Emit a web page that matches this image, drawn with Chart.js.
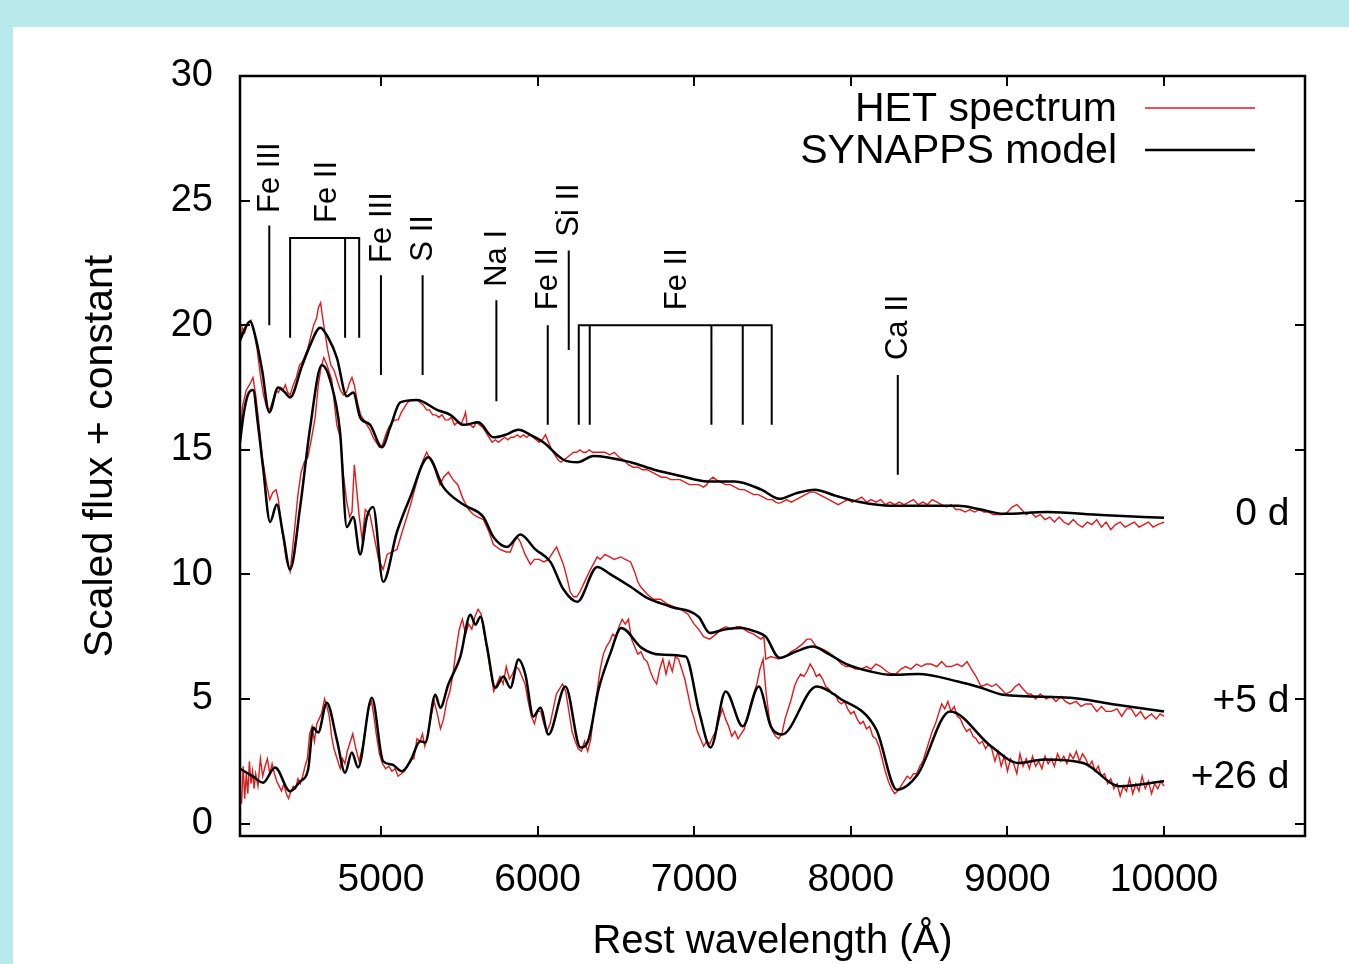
<!DOCTYPE html>
<html><head><meta charset="utf-8">
<script src="https://cdn.jsdelivr.net/npm/chart.js@4.4.1/dist/chart.umd.min.js"></script>
<style>html,body{margin:0;padding:0;background:#b8eaec;}canvas{display:block}</style>
</head><body>
<canvas id="c" width="1349" height="964"></canvas>
<script>
// ---------- tick labels ----------
const xTickValues = [5000, 6000, 7000, 8000, 9000, 10000];
const yTickValues = [0, 5, 10, 15, 20, 25, 30];

// ---------- 0 d ----------
const het0d = [[4100,19.2],[4115,19.9],[4130,19.7],[4150,20.1],[4170,20.2],[4190,19.7],[4210,19.0],[4230,18.0],[4250,17.2],[4270,16.7],[4290,16.6],[4310,17.0],[4330,17.4],[4345,17.3],[4360,17.5],[4375,17.4],[4390,17.6],[4405,17.3],[4420,17.2],[4440,17.6],[4460,17.9],[4480,18.4],[4495,18.5],[4510,18.7],[4530,19.0],[4550,19.5],[4570,20.0],[4590,20.3],[4600,20.7],[4615,20.9],[4625,20.4],[4640,19.8],[4660,19.0],[4680,18.4],[4700,18.2],[4720,17.8],[4740,17.4],[4760,17.2],[4780,17.3],[4800,17.7],[4815,17.9],[4830,17.6],[4850,16.9],[4870,16.4],[4890,16.2],[4910,16.0],[4930,15.8],[4950,15.5],[4970,15.3],[4990,15.1],[5010,15.2],[5030,15.6],[5050,15.9],[5070,16.1],[5090,16.2],[5110,16.2],[5130,16.5],[5150,16.7],[5170,16.9],[5190,17.0],[5210,17.0],[5230,17.0],[5250,16.9],[5270,16.8],[5290,16.6],[5310,16.6],[5330,16.4],[5350,16.4],[5370,16.3],[5390,16.4],[5410,16.2],[5430,16.2],[5450,16.3],[5470,16.0],[5490,16.1],[5510,16.0],[5530,16.3],[5540,16.5],[5550,16.0],[5570,16.0],[5590,15.9],[5610,16.1],[5630,16.0],[5650,15.9],[5670,15.7],[5690,15.5],[5710,15.3],[5730,15.4],[5750,15.3],[5770,15.4],[5790,15.5],[5810,15.4],[5830,15.5],[5850,15.5],[5870,15.6],[5890,15.5],[5910,15.6],[5930,15.5],[5950,15.6],[5970,15.5],[5990,15.4],[6010,15.3],[6030,15.4],[6050,15.6],[6070,15.3],[6090,15.0],[6110,14.8],[6130,14.6],[6150,14.5],[6170,14.6],[6190,14.7],[6210,14.8],[6230,14.9],[6250,14.9],[6270,15.0],[6290,14.9],[6310,14.9],[6330,15.0],[6350,14.9],[6380,14.9],[6400,14.9],[6430,14.9],[6460,14.8],[6490,14.9],[6520,14.7],[6550,14.6],[6580,14.4],[6610,14.3],[6640,14.3],[6670,14.2],[6700,14.2],[6730,14.1],[6760,14.0],[6790,13.9],[6820,13.9],[6850,13.8],[6880,13.8],[6910,13.8],[6940,13.7],[6970,13.6],[7000,13.6],[7030,13.6],[7060,13.5],[7080,13.6],[7100,13.8],[7120,13.9],[7140,13.8],[7170,13.7],[7200,13.6],[7230,13.6],[7260,13.5],[7290,13.4],[7320,13.4],[7350,13.3],[7380,13.2],[7410,13.2],[7440,13.1],[7470,13.0],[7500,13.0],[7520,12.9],[7540,12.85],[7560,12.9],[7590,13.0],[7620,12.9],[7650,13.0],[7680,13.1],[7710,13.2],[7740,13.3],[7770,13.3],[7800,13.2],[7830,13.1],[7860,13.0],[7890,12.9],[7920,12.8],[7950,12.9],[7980,13.0],[8010,12.9],[8040,13.0],[8070,13.1],[8100,12.9],[8130,13.0],[8160,12.9],[8190,13.0],[8220,12.8],[8250,12.9],[8280,12.8],[8310,12.9],[8340,12.8],[8370,12.9],[8400,13.0],[8430,12.8],[8460,12.9],[8490,12.8],[8520,13.0],[8550,12.9],[8580,12.8],[8610,12.7],[8640,12.8],[8670,12.6],[8700,12.6],[8730,12.5],[8760,12.6],[8790,12.5],[8820,12.6],[8850,12.5],[8880,12.5],[8910,12.4],[8940,12.4],[8970,12.4],[9000,12.5],[9030,12.7],[9060,12.8],[9090,12.6],[9120,12.4],[9150,12.5],[9180,12.3],[9210,12.4],[9240,12.2],[9270,12.3],[9300,12.1],[9330,12.3],[9360,12.1],[9390,12.0],[9420,12.2],[9450,12.0],[9480,11.9],[9510,12.1],[9540,12.0],[9570,12.2],[9600,11.9],[9630,12.1],[9660,11.8],[9690,12.0],[9720,12.1],[9750,11.9],[9780,12.0],[9810,12.1],[9840,11.9],[9870,12.0],[9900,12.1],[9930,11.9],[9960,12.0],[10000,12.1]];
const syn0d = [[4100,19.4],[4164,20.15],[4200,19.5],[4241,18.2],[4287,16.5],[4343,17.5],[4388,17.3],[4420,17.1],[4495,18.35],[4548,19.2],[4612,19.9],[4663,19.5],[4718,18.7],[4782,17.15],[4823,17.3],[4867,16.3],[4931,16.0],[5006,15.1],[5059,15.9],[5123,16.9],[5230,17.0],[5358,16.6],[5443,16.4],[5526,16.0],[5622,16.1],[5718,15.5],[5794,15.6],[5878,15.8],[5954,15.6],[6037,15.3],[6165,14.6],[6255,14.5],[6357,14.75],[6594,14.5],[6745,14.2],[6913,13.95],[7086,13.73],[7259,13.73],[7429,13.4],[7544,13.03],[7649,13.25],[7770,13.4],[7905,13.15],[8058,12.9],[8256,12.75],[8684,12.75],[8832,12.6],[8972,12.43],[9254,12.5],[9599,12.38],[10000,12.27]];

// ---------- +5 d ----------
const het5d = [[4100,15.2],[4115,16.7],[4140,17.4],[4160,17.6],[4183,17.9],[4200,17.2],[4220,16.1],[4245,14.6],[4270,13.6],[4290,13.0],[4310,13.3],[4330,13.4],[4345,13.0],[4370,11.7],[4395,10.6],[4420,10.1],[4445,11.6],[4470,13.2],[4490,14.1],[4510,14.5],[4533,14.7],[4555,15.4],[4580,16.3],[4600,17.6],[4617,18.3],[4635,18.7],[4655,18.4],[4686,17.8],[4700,17.0],[4718,16.0],[4740,15.5],[4760,14.0],[4782,12.9],[4800,12.3],[4815,12.5],[4830,14.4],[4845,13.4],[4860,12.4],[4880,11.4],[4900,12.6],[4930,12.4],[4960,11.4],[4985,10.6],[5014,10.2],[5040,10.8],[5070,10.9],[5102,11.0],[5140,11.8],[5180,12.6],[5215,13.4],[5250,14.2],[5270,14.6],[5292,14.9],[5315,14.6],[5340,14.3],[5360,13.9],[5377,13.6],[5400,13.9],[5430,14.1],[5460,13.8],[5490,13.6],[5526,13.0],[5560,12.6],[5590,12.4],[5620,12.3],[5654,12.2],[5690,11.7],[5718,11.2],[5760,11.0],[5800,10.9],[5826,10.9],[5850,11.3],[5870,11.5],[5890,11.3],[5920,10.8],[5954,10.4],[5980,10.6],[6010,10.6],[6040,10.5],[6070,10.6],[6100,10.9],[6122,11.1],[6140,10.8],[6165,10.4],[6190,9.8],[6208,9.3],[6230,9.1],[6250,9.1],[6270,9.3],[6300,9.7],[6330,10.1],[6355,10.4],[6381,10.7],[6400,10.6],[6430,10.8],[6460,10.7],[6490,10.6],[6530,10.7],[6560,10.6],[6594,10.5],[6620,10.1],[6640,9.7],[6658,9.5],[6700,9.2],[6740,9.0],[6785,9.0],[6830,8.8],[6870,8.7],[6913,8.6],[6960,8.4],[7000,8.0],[7028,7.8],[7060,7.5],[7099,7.4],[7140,7.6],[7170,7.8],[7201,7.9],[7240,7.8],[7270,7.9],[7297,7.9],[7340,7.7],[7380,7.6],[7425,7.4],[7445,7.5],[7457,6.6],[7490,6.7],[7540,6.6],[7580,6.7],[7620,6.9],[7649,7.0],[7690,7.2],[7720,7.4],[7745,7.4],[7780,7.1],[7820,7.0],[7850,6.9],[7872,6.8],[7910,6.6],[7940,6.4],[7968,6.3],[8000,6.3],[8030,6.2],[8064,6.2],[8100,6.3],[8130,6.2],[8160,6.4],[8192,6.3],[8230,6.1],[8260,6.0],[8288,6.0],[8320,6.2],[8350,6.3],[8384,6.2],[8420,6.4],[8450,6.3],[8480,6.4],[8512,6.4],[8550,6.3],[8580,6.5],[8610,6.3],[8640,6.3],[8680,6.4],[8710,6.3],[8742,6.5],[8770,6.2],[8800,5.9],[8832,5.5],[8870,5.6],[8900,5.5],[8928,5.6],[8960,5.4],[8990,5.2],[9023,5.3],[9050,5.5],[9074,5.6],[9100,5.4],[9130,5.2],[9151,5.2],[9180,5.0],[9210,5.2],[9247,5.0],[9280,5.1],[9310,4.9],[9343,5.1],[9370,4.9],[9400,4.8],[9439,4.9],[9470,4.7],[9500,4.8],[9535,4.8],[9570,4.5],[9600,4.7],[9630,4.5],[9663,4.5],[9700,4.6],[9730,4.3],[9760,4.6],[9791,4.6],[9820,4.3],[9850,4.5],[9880,4.2],[9919,4.4],[9950,4.2],[9975,4.4],[10000,4.3]];
const syn5d = [[4100,15.3],[4125,16.5],[4150,17.2],[4183,17.4],[4215,16.0],[4247,14.3],[4292,12.1],[4335,12.8],[4375,11.6],[4420,10.2],[4484,12.7],[4548,15.9],[4622,18.4],[4675,17.8],[4739,15.7],[4782,11.9],[4823,12.3],[4867,10.8],[4910,12.3],[4950,12.7],[5014,9.7],[5102,11.7],[5187,13.1],[5302,14.7],[5398,13.5],[5526,12.8],[5654,12.3],[5718,11.5],[5805,11.1],[5890,11.6],[5986,11.0],[6082,10.5],[6165,9.4],[6253,8.9],[6381,10.3],[6466,10.0],[6594,9.5],[6687,9.1],[6850,8.7],[7028,8.3],[7099,7.65],[7201,7.8],[7301,7.85],[7393,7.7],[7457,7.5],[7544,6.65],[7649,6.9],[7757,7.1],[7860,6.8],[7972,6.4],[8128,6.1],[8256,5.97],[8429,6.0],[8684,5.7],[8832,5.45],[8972,5.17],[9401,5.05],[9663,4.8],[10000,4.5]];

// ---------- +26 d ----------
const het26d = [[4100,1.5],[4110,0.8],[4120,2.3],[4130,1.0],[4140,2.0],[4150,1.2],[4160,2.5],[4170,1.6],[4180,2.1],[4190,1.4],[4200,2.0],[4215,1.5],[4230,2.6],[4245,1.9],[4260,2.3],[4275,2.6],[4290,2.0],[4305,2.4],[4320,2.0],[4335,1.7],[4350,1.5],[4365,1.3],[4380,1.6],[4395,1.2],[4410,1.0],[4425,1.3],[4440,1.5],[4455,1.4],[4470,1.8],[4485,1.6],[4500,1.9],[4515,2.3],[4530,2.6],[4545,3.6],[4560,3.9],[4575,3.3],[4590,4.0],[4605,4.2],[4620,4.4],[4640,5.0],[4655,4.7],[4670,4.3],[4685,3.5],[4700,3.0],[4720,2.6],[4740,2.2],[4755,2.6],[4770,2.4],[4785,2.9],[4800,3.2],[4820,3.6],[4840,3.0],[4860,2.5],[4880,3.0],[4900,3.8],[4920,4.6],[4940,4.9],[4955,4.3],[4970,3.6],[4990,2.8],[5010,2.4],[5030,2.2],[5050,2.3],[5070,2.1],[5090,2.2],[5110,1.9],[5130,2.0],[5150,2.1],[5170,2.3],[5190,2.6],[5210,2.6],[5230,3.4],[5250,3.3],[5265,3.6],[5280,3.1],[5300,3.6],[5320,4.3],[5340,4.9],[5360,4.4],[5380,3.8],[5400,4.2],[5420,4.9],[5440,5.3],[5460,6.0],[5480,7.0],[5500,7.8],[5520,8.2],[5540,7.6],[5560,8.0],[5580,7.8],[5600,8.3],[5620,8.6],[5640,8.4],[5660,7.6],[5680,6.9],[5700,6.1],[5720,5.3],[5740,5.6],[5760,5.9],[5780,5.6],[5800,6.3],[5820,5.8],[5840,6.0],[5860,6.3],[5880,6.2],[5900,5.9],[5920,5.6],[5940,4.9],[5960,4.3],[5980,4.0],[6000,4.5],[6020,4.5],[6040,4.0],[6060,3.7],[6080,4.0],[6100,4.6],[6120,5.2],[6140,5.4],[6160,5.6],[6180,5.3],[6200,4.5],[6220,3.7],[6240,3.3],[6260,3.0],[6280,2.9],[6300,3.3],[6320,2.9],[6340,3.4],[6360,4.5],[6380,5.3],[6400,6.2],[6420,6.8],[6440,7.1],[6460,7.3],[6480,7.6],[6500,7.5],[6520,7.9],[6540,8.2],[6560,8.0],[6580,8.2],[6600,7.4],[6620,7.1],[6640,6.8],[6660,6.9],[6680,6.6],[6700,6.5],[6720,6.1],[6740,5.8],[6760,5.6],[6780,6.2],[6800,6.6],[6820,6.0],[6840,6.5],[6860,6.1],[6880,6.7],[6900,6.6],[6920,6.2],[6940,5.8],[6960,5.2],[6980,4.6],[7000,4.2],[7020,3.7],[7040,3.4],[7060,3.1],[7080,3.3],[7100,3.2],[7120,3.5],[7140,3.7],[7160,4.2],[7180,4.6],[7200,4.2],[7220,3.9],[7240,3.5],[7260,3.7],[7280,3.4],[7300,3.6],[7320,3.8],[7340,4.3],[7360,4.8],[7380,5.2],[7400,5.6],[7420,6.2],[7440,6.6],[7460,5.2],[7480,4.2],[7500,3.7],[7520,3.5],[7540,3.4],[7560,3.6],[7580,4.2],[7600,4.6],[7620,5.0],[7640,5.5],[7660,5.8],[7680,6.0],[7700,5.9],[7720,6.1],[7740,6.4],[7760,6.2],[7780,5.9],[7800,6.0],[7820,5.8],[7840,5.5],[7860,5.4],[7880,5.2],[7900,5.2],[7920,4.9],[7940,4.8],[7960,4.9],[7980,4.6],[8000,4.4],[8020,4.5],[8040,4.2],[8060,4.0],[8080,4.1],[8100,3.8],[8120,3.9],[8140,3.5],[8160,3.4],[8180,3.1],[8200,2.6],[8220,2.1],[8240,1.7],[8260,1.4],[8280,1.2],[8300,1.3],[8320,1.5],[8340,1.7],[8360,1.9],[8380,1.8],[8400,2.0],[8420,2.0],[8440,2.3],[8460,2.5],[8480,2.9],[8500,3.3],[8520,3.7],[8540,4.0],[8560,4.4],[8580,4.8],[8600,4.6],[8620,4.9],[8640,4.5],[8660,4.7],[8680,4.3],[8700,4.2],[8720,3.9],[8740,3.7],[8760,3.8],[8780,3.5],[8800,3.4],[8820,3.2],[8840,3.3],[8860,3.0],[8880,3.2],[8900,3.0],[8920,2.5],[8940,2.9],[8960,2.3],[8980,2.7],[9000,2.1],[9020,2.6],[9040,2.4],[9060,2.0],[9080,2.8],[9100,2.3],[9120,2.6],[9140,2.2],[9160,2.7],[9180,2.3],[9200,2.5],[9220,2.2],[9240,2.7],[9260,2.4],[9280,2.6],[9300,2.3],[9320,2.8],[9340,2.5],[9360,2.7],[9380,2.4],[9400,2.8],[9420,2.6],[9440,2.9],[9460,2.5],[9480,2.8],[9500,2.6],[9520,2.3],[9540,2.5],[9560,2.1],[9580,2.3],[9600,1.9],[9620,2.0],[9640,1.6],[9660,1.8],[9680,1.4],[9700,1.6],[9720,1.1],[9740,1.5],[9760,1.3],[9780,1.8],[9800,1.2],[9820,1.6],[9840,1.3],[9860,1.9],[9880,1.4],[9900,1.7],[9920,1.2],[9940,1.6],[9960,1.4],[9980,1.7],[10000,1.5]];
const syn26d = [[4100,2.2],[4180,1.9],[4247,1.64],[4324,2.25],[4420,1.29],[4484,1.69],[4535,2.17],[4567,3.85],[4599,3.65],[4654,4.85],[4718,3.37],[4771,2.04],[4814,2.85],[4854,2.25],[4942,5.05],[5014,2.5],[5070,2.37],[5134,2.1],[5187,2.5],[5251,3.3],[5283,3.25],[5347,5.17],[5379,4.65],[5430,5.58],[5507,6.7],[5571,8.38],[5603,7.98],[5635,8.3],[5677,7.1],[5730,5.45],[5782,5.9],[5826,5.45],[5878,6.58],[5922,5.98],[5973,4.3],[6018,4.65],[6069,3.57],[6178,5.5],[6274,3.05],[6325,3.37],[6389,5.37],[6466,6.85],[6534,7.85],[6664,7.05],[6784,6.78],[6945,6.7],[7033,4.45],[7105,3.05],[7201,5.3],[7310,3.9],[7412,5.5],[7489,3.9],[7559,3.57],[7782,5.5],[7928,5.03],[8163,3.77],[8294,1.36],[8427,1.97],[8633,4.5],[8896,3.1],[9073,2.43],[9234,2.57],[9484,2.43],[9719,1.5],[10000,1.7]];

// ---------- line identifications ----------
const ionLabels   = ['Fe III', 'Fe II', 'Fe III', 'S II', 'Na I', 'Fe II', 'Si II', 'Fe II', 'Ca II'];
const ionLabelX   = [4287, 4654, 5000, 5266, 5737, 6065, 6199, 6888, 8300];
const ionLabelY   = [24.5, 24.1, 22.5, 22.55, 21.54, 20.6, 23.55, 20.6, 18.6];
// vertical markers: [wavelength, bottom, top]
const ionMarkers = [[4287,20.0,24.0],[4420,19.5,23.5],[4771,19.5,23.5],[4861,19.5,23.5],[5000,18.0,22.0],[5266,18.0,22.0],[5737,16.95,21.0],[6065,16.0,20.0],[6199,19.0,23.0],[6263,16.0,20.0],[6333,16.0,20.0],[7110,16.0,20.0],[7310,16.0,20.0],[7495,16.0,20.0],[8300,14.0,18.0]];
// bracket bars: [from, to, level]
const ionBrackets = [[4420,4861,23.5],[6263,7495,20.0]];

// ---------- epoch labels ----------
const epochLabels = ['0 d', '+5 d', '+26 d'];
const epochX = [10801, 10801, 10801];
const epochY = [12.43, 4.89, 1.85];

const FONT = "'Liberation Sans', Arial, Helvetica, sans-serif";
const RED = '#e31a1c';
const toXY = a => a.map(p => ({x: p[0], y: p[1]}));

const bgPlugin = {
  id: 'bg',
  beforeDraw(chart) {
    const c = chart.ctx;
    c.save();
    c.fillStyle = '#b8eaec';
    c.fillRect(0, 0, chart.width, chart.height);
    c.fillStyle = '#ffffff';
    c.fillRect(13, 27, chart.width - 13, chart.height - 27);
    c.restore();
  }
};

const framePlugin = {
  id: 'frame',
  afterDraw(chart) {
    const c = chart.ctx, a = chart.chartArea;
    const xs = chart.scales.x, ys = chart.scales.y;
    c.save();
    c.strokeStyle = '#000';
    // ticks (inward, mirrored)
    c.lineWidth = 2;
    c.beginPath();
    xTickValues.forEach(v => {
      const px = Math.round(xs.getPixelForValue(v));
      c.moveTo(px, a.bottom); c.lineTo(px, a.bottom - 10);
      c.moveTo(px, a.top); c.lineTo(px, a.top + 10);
    });
    yTickValues.forEach(v => {
      const py = Math.round(ys.getPixelForValue(v));
      c.moveTo(a.left, py); c.lineTo(a.left + 10, py);
      c.moveTo(a.right, py); c.lineTo(a.right - 10, py);
    });
    c.stroke();
    // frame
    c.lineWidth = 2.5;
    c.strokeRect(a.left, a.top, a.right - a.left, a.bottom - a.top);

    // ion markers
    c.lineWidth = 2;
    c.beginPath();
    ionMarkers.forEach(m => {
      const px = xs.getPixelForValue(m[0]);
      c.moveTo(px, ys.getPixelForValue(m[1]));
      c.lineTo(px, ys.getPixelForValue(m[2]));
    });
    ionBrackets.forEach(b => {
      const py = ys.getPixelForValue(b[2]);
      c.moveTo(xs.getPixelForValue(b[0]) - 1, py);
      c.lineTo(xs.getPixelForValue(b[1]) + 1, py);
    });
    c.stroke();

    // ion labels (rotated)
    c.fillStyle = '#000';
    c.font = '31px ' + FONT;
    c.textAlign = 'left';
    c.textBaseline = 'middle';
    ionLabels.forEach((t, i) => {
      c.save();
      c.translate(xs.getPixelForValue(ionLabelX[i]) + 1, ys.getPixelForValue(ionLabelY[i]));
      c.rotate(-Math.PI / 2);
      c.fillText(t, 0, 0);
      c.restore();
    });

    // epoch labels
    c.font = '39px ' + FONT;
    c.textAlign = 'right';
    epochLabels.forEach((t, i) => {
      c.fillText(t, xs.getPixelForValue(epochX[i]), ys.getPixelForValue(epochY[i]));
    });

    // legend
    const items = [chart.data.datasets[1], chart.data.datasets[0]];
    c.font = '41px ' + FONT;
    c.textAlign = 'right';
    const rowsY = [109, 151];
    items.forEach((ds, i) => {
      c.fillStyle = '#000';
      c.fillText(ds.label, 1117, rowsY[i] + 1);
      c.strokeStyle = ds.borderColor;
      c.lineWidth = ds.borderWidth;
      c.beginPath();
      c.moveTo(1145, rowsY[i] - 1); c.lineTo(1255, rowsY[i] - 1);
      c.stroke();
    });
    c.restore();
  }
};

const red = (d) => ({label: 'HET spectrum', data: toXY(d), borderColor: RED, borderWidth: 1.4, pointRadius: 0, tension: 0, order: 2});
const blk = (d) => ({label: 'SYNAPPS model', data: toXY(d), borderColor: '#000000', borderWidth: 2.5, pointRadius: 0, cubicInterpolationMode: 'monotone', order: 1});

new Chart(document.getElementById('c').getContext('2d'), {
  type: 'line',
  data: {
    datasets: [blk(syn0d), red(het0d), blk(syn5d), red(het5d), blk(syn26d), red(het26d)]
  },
  options: {
    responsive: false,
    animation: false,
    devicePixelRatio: 1,
    layout: {padding: {top: 76, right: 44, left: 0, bottom: 0}},
    plugins: {legend: {display: false}, tooltip: {enabled: false}},
    scales: {
      x: {
        type: 'linear', min: 4100, max: 10900,
        afterBuildTicks: s => { s.ticks = xTickValues.map(v => ({value: v})); },
        afterFit: s => { s.height = 128; },
        grid: {display: false, drawTicks: false},
        border: {display: false},
        ticks: {color: '#000', font: {family: FONT, size: 39}, padding: 21, maxRotation: 0, autoSkip: false, callback: v => String(v)},
        title: {display: true, text: 'Rest wavelength (Å)', color: '#000', font: {family: FONT, size: 40, lineHeight: 1.1}, padding: {top: 0, bottom: 0}}
      },
      y: {
        type: 'linear', min: -0.5, max: 30,
        afterBuildTicks: s => { s.ticks = yTickValues.map(v => ({value: v})); },
        afterFit: s => { s.width = 240; },
        grid: {display: false, drawTicks: false},
        border: {display: false},
        ticks: {color: '#000', font: {family: FONT, size: 38}, padding: 27, autoSkip: false, callback: v => String(v)},
        title: {display: true, text: 'Scaled flux + constant', color: '#000', font: {family: FONT, size: 41}, padding: {top: 76, bottom: 0}}
      }
    }
  },
  plugins: [bgPlugin, framePlugin]
});
</script>
</body></html>
